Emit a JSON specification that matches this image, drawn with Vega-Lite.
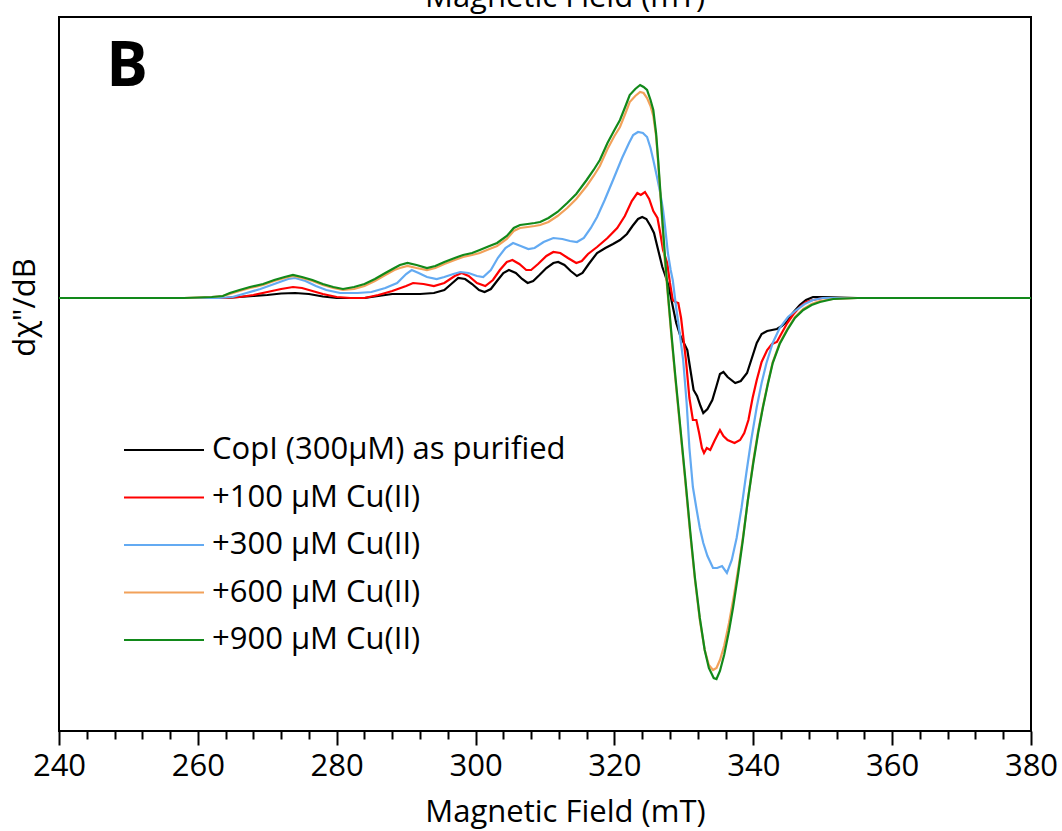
{
"$schema": "https://vega.github.io/schema/vega-lite/v6.json",
"width": 972, "height": 714,
"autosize": {"type": "none"},
"padding": {"left": 59, "top": 17, "right": 31, "bottom": 100},
"background": "white",
"config": {"view": {"stroke": "black", "strokeWidth": 2}, "font": "Open Sans"},
"resolve": {"axis": {"x": "independent"}},
"layer": [
{
"data": {"values": [
{"s":"a","x":240,"y":0},{"s":"a","x":255,"y":0},{"s":"a","x":264,"y":0},{"s":"a","x":266,"y":1},{"s":"a","x":268,"y":2},{"s":"a","x":270,"y":3},{"s":"a","x":272,"y":4.5},{"s":"a","x":274,"y":5},{"s":"a","x":276,"y":4},{"s":"a","x":278,"y":1.5},{"s":"a","x":280,"y":0},{"s":"a","x":284,"y":0},{"s":"a","x":286,"y":2},{"s":"a","x":288,"y":4},{"s":"a","x":290,"y":4},{"s":"a","x":292,"y":4},{"s":"a","x":294,"y":5},{"s":"a","x":295.5,"y":8},{"s":"a","x":296.5,"y":14},{"s":"a","x":297.5,"y":20},{"s":"a","x":298.5,"y":19},{"s":"a","x":299.5,"y":14},{"s":"a","x":300.5,"y":8},{"s":"a","x":301.3,"y":6},{"s":"a","x":302.2,"y":9},{"s":"a","x":303.2,"y":18},{"s":"a","x":304,"y":25},{"s":"a","x":304.8,"y":28},{"s":"a","x":305.8,"y":25},{"s":"a","x":306.7,"y":19},{"s":"a","x":307.5,"y":15},{"s":"a","x":308.3,"y":17},{"s":"a","x":309.2,"y":23},{"s":"a","x":310.2,"y":30},{"s":"a","x":311.2,"y":35},{"s":"a","x":311.9,"y":36},{"s":"a","x":312.8,"y":33},{"s":"a","x":313.7,"y":27},{"s":"a","x":314.6,"y":22},{"s":"a","x":315.4,"y":25},{"s":"a","x":316.3,"y":34},{"s":"a","x":317.5,"y":45},{"s":"a","x":318.7,"y":50},{"s":"a","x":319.8,"y":54},{"s":"a","x":320.8,"y":58},{"s":"a","x":321.8,"y":64},{"s":"a","x":322.6,"y":72},{"s":"a","x":323.4,"y":79},{"s":"a","x":324,"y":81},{"s":"a","x":324.6,"y":79},{"s":"a","x":325.2,"y":72},{"s":"a","x":325.7,"y":65},{"s":"a","x":326.3,"y":48},{"s":"a","x":326.9,"y":31},{"s":"a","x":327.3,"y":23},{"s":"a","x":327.8,"y":12},{"s":"a","x":328.3,"y":-5},{"s":"a","x":328.9,"y":-25},{"s":"a","x":329.5,"y":-38},{"s":"a","x":330,"y":-45},{"s":"a","x":330.5,"y":-52},{"s":"a","x":330.9,"y":-70},{"s":"a","x":331.4,"y":-92},{"s":"a","x":331.9,"y":-98},{"s":"a","x":332.4,"y":-108},{"s":"a","x":332.8,"y":-115},{"s":"a","x":333.4,"y":-111},{"s":"a","x":334.1,"y":-102},{"s":"a","x":334.7,"y":-88},{"s":"a","x":335.2,"y":-76},{"s":"a","x":335.7,"y":-74},{"s":"a","x":336.3,"y":-79},{"s":"a","x":337.4,"y":-85},{"s":"a","x":338.2,"y":-83},{"s":"a","x":339.1,"y":-75},{"s":"a","x":339.8,"y":-60},{"s":"a","x":340.5,"y":-45},{"s":"a","x":341.2,"y":-36},{"s":"a","x":342,"y":-33},{"s":"a","x":342.7,"y":-32},{"s":"a","x":343.4,"y":-31},{"s":"a","x":344.1,"y":-28},{"s":"a","x":344.9,"y":-23},{"s":"a","x":345.7,"y":-15},{"s":"a","x":346.7,"y":-7},{"s":"a","x":347.6,"y":-2},{"s":"a","x":348.6,"y":1},{"s":"a","x":350,"y":1},{"s":"a","x":355,"y":0},{"s":"a","x":365,"y":0},{"s":"a","x":380,"y":0},

{"s":"b","x":240,"y":0},{"s":"b","x":255,"y":0},{"s":"b","x":264,"y":0},{"s":"b","x":266,"y":1},{"s":"b","x":268,"y":3},{"s":"b","x":270,"y":6},{"s":"b","x":272,"y":9},{"s":"b","x":273.7,"y":11},{"s":"b","x":275,"y":10},{"s":"b","x":276.5,"y":7},{"s":"b","x":278,"y":4},{"s":"b","x":280,"y":1},{"s":"b","x":282,"y":0},{"s":"b","x":284,"y":0},{"s":"b","x":286,"y":3},{"s":"b","x":288,"y":7},{"s":"b","x":290,"y":12},{"s":"b","x":291,"y":15},{"s":"b","x":292.5,"y":14},{"s":"b","x":294,"y":12},{"s":"b","x":295.5,"y":15},{"s":"b","x":297,"y":22},{"s":"b","x":298,"y":25},{"s":"b","x":299,"y":22},{"s":"b","x":300.2,"y":15},{"s":"b","x":301.4,"y":12},{"s":"b","x":302.5,"y":18},{"s":"b","x":303.5,"y":28},{"s":"b","x":304.5,"y":36},{"s":"b","x":305.3,"y":38},{"s":"b","x":306.3,"y":34},{"s":"b","x":307.3,"y":28},{"s":"b","x":308,"y":28},{"s":"b","x":309,"y":34},{"s":"b","x":310.2,"y":42},{"s":"b","x":311.2,"y":46},{"s":"b","x":312.2,"y":45},{"s":"b","x":313.3,"y":40},{"s":"b","x":314.5,"y":35},{"s":"b","x":315.3,"y":37},{"s":"b","x":316.2,"y":44},{"s":"b","x":317.5,"y":51},{"s":"b","x":319,"y":60},{"s":"b","x":320.4,"y":70},{"s":"b","x":321.5,"y":82},{"s":"b","x":322.5,"y":97},{"s":"b","x":323.3,"y":105},{"s":"b","x":323.8,"y":103},{"s":"b","x":324.4,"y":106},{"s":"b","x":325,"y":99},{"s":"b","x":325.6,"y":87},{"s":"b","x":326.2,"y":80},{"s":"b","x":326.6,"y":65},{"s":"b","x":327,"y":48},{"s":"b","x":327.6,"y":35},{"s":"b","x":328,"y":15},{"s":"b","x":328.4,"y":-2},{"s":"b","x":328.8,"y":-4},{"s":"b","x":329.2,"y":-5},{"s":"b","x":329.6,"y":-20},{"s":"b","x":329.9,"y":-38},{"s":"b","x":330.3,"y":-62},{"s":"b","x":330.8,"y":-100},{"s":"b","x":331.3,"y":-122},{"s":"b","x":331.8,"y":-122},{"s":"b","x":332.2,"y":-135},{"s":"b","x":332.6,"y":-150},{"s":"b","x":332.9,"y":-155},{"s":"b","x":333.3,"y":-150},{"s":"b","x":333.8,"y":-152},{"s":"b","x":334.4,"y":-143},{"s":"b","x":335.2,"y":-132},{"s":"b","x":335.7,"y":-138},{"s":"b","x":336.3,"y":-142},{"s":"b","x":337.3,"y":-145},{"s":"b","x":338.1,"y":-142},{"s":"b","x":338.7,"y":-135},{"s":"b","x":339.3,"y":-122},{"s":"b","x":339.9,"y":-100},{"s":"b","x":340.5,"y":-82},{"s":"b","x":341.2,"y":-64},{"s":"b","x":342,"y":-52},{"s":"b","x":342.7,"y":-46},{"s":"b","x":343.4,"y":-44},{"s":"b","x":344.1,"y":-35},{"s":"b","x":344.9,"y":-25},{"s":"b","x":345.8,"y":-16},{"s":"b","x":346.7,"y":-9},{"s":"b","x":347.6,"y":-4},{"s":"b","x":348.6,"y":-2},{"s":"b","x":350,"y":0},{"s":"b","x":355,"y":0},{"s":"b","x":365,"y":0},{"s":"b","x":380,"y":0},

{"s":"c","x":240,"y":0},{"s":"c","x":255,"y":0},{"s":"c","x":263,"y":0},{"s":"c","x":265,"y":1},{"s":"c","x":267,"y":5},{"s":"c","x":269,"y":9},{"s":"c","x":271,"y":14},{"s":"c","x":273,"y":19},{"s":"c","x":274,"y":20},{"s":"c","x":275.5,"y":17},{"s":"c","x":277,"y":12},{"s":"c","x":278.5,"y":8},{"s":"c","x":280.5,"y":5},{"s":"c","x":283,"y":5},{"s":"c","x":285,"y":6},{"s":"c","x":287,"y":10},{"s":"c","x":288.7,"y":15},{"s":"c","x":290,"y":24},{"s":"c","x":290.8,"y":28},{"s":"c","x":291.8,"y":25},{"s":"c","x":293,"y":21},{"s":"c","x":294.4,"y":19},{"s":"c","x":295.5,"y":21},{"s":"c","x":296.8,"y":24},{"s":"c","x":297.8,"y":26},{"s":"c","x":299,"y":25},{"s":"c","x":300.2,"y":22},{"s":"c","x":301.1,"y":21},{"s":"c","x":302.2,"y":28},{"s":"c","x":303.2,"y":40},{"s":"c","x":304.3,"y":50},{"s":"c","x":305.4,"y":55},{"s":"c","x":306.5,"y":52},{"s":"c","x":307.6,"y":49},{"s":"c","x":308.5,"y":50},{"s":"c","x":309.8,"y":56},{"s":"c","x":311.2,"y":60},{"s":"c","x":312.5,"y":59},{"s":"c","x":313.6,"y":57},{"s":"c","x":314.6,"y":56},{"s":"c","x":315.6,"y":60},{"s":"c","x":316.6,"y":70},{"s":"c","x":317.5,"y":81},{"s":"c","x":318.6,"y":98},{"s":"c","x":319.8,"y":118},{"s":"c","x":321.1,"y":140},{"s":"c","x":322.1,"y":155},{"s":"c","x":322.7,"y":163},{"s":"c","x":323.4,"y":166},{"s":"c","x":324.1,"y":165},{"s":"c","x":324.7,"y":161},{"s":"c","x":325.2,"y":150},{"s":"c","x":325.6,"y":138},{"s":"c","x":326.1,"y":122},{"s":"c","x":326.6,"y":105},{"s":"c","x":327,"y":88},{"s":"c","x":327.3,"y":71},{"s":"c","x":327.7,"y":45},{"s":"c","x":328.1,"y":28},{"s":"c","x":328.4,"y":18},{"s":"c","x":328.9,"y":-10},{"s":"c","x":329.4,"y":-35},{"s":"c","x":329.9,"y":-62},{"s":"c","x":330.4,"y":-105},{"s":"c","x":330.8,"y":-150},{"s":"c","x":331.3,"y":-189},{"s":"c","x":331.8,"y":-210},{"s":"c","x":332.3,"y":-230},{"s":"c","x":332.8,"y":-245},{"s":"c","x":333.4,"y":-258},{"s":"c","x":334.2,"y":-270},{"s":"c","x":334.8,"y":-270},{"s":"c","x":335.5,"y":-268},{"s":"c","x":336.2,"y":-275},{"s":"c","x":336.9,"y":-262},{"s":"c","x":337.6,"y":-240},{"s":"c","x":338.3,"y":-210},{"s":"c","x":339,"y":-175},{"s":"c","x":339.7,"y":-142},{"s":"c","x":340.5,"y":-109},{"s":"c","x":341.2,"y":-85},{"s":"c","x":341.9,"y":-65},{"s":"c","x":342.8,"y":-45},{"s":"c","x":343.8,"y":-30},{"s":"c","x":345,"y":-19},{"s":"c","x":346.2,"y":-12},{"s":"c","x":347.4,"y":-6},{"s":"c","x":348.6,"y":-2},{"s":"c","x":350,"y":0},{"s":"c","x":355,"y":0},{"s":"c","x":365,"y":0},{"s":"c","x":380,"y":0},

{"s":"d","x":240,"y":0},{"s":"d","x":250,"y":0},{"s":"d","x":258,"y":0},{"s":"d","x":262,"y":1},{"s":"d","x":263.6,"y":2},{"s":"d","x":264.6,"y":4},{"s":"d","x":266,"y":7},{"s":"d","x":267.5,"y":10},{"s":"d","x":269.4,"y":13},{"s":"d","x":271,"y":17},{"s":"d","x":272.5,"y":20},{"s":"d","x":273.7,"y":22},{"s":"d","x":275,"y":20},{"s":"d","x":276.5,"y":17},{"s":"d","x":278,"y":13},{"s":"d","x":279.5,"y":10},{"s":"d","x":280.9,"y":8},{"s":"d","x":282.5,"y":9},{"s":"d","x":284,"y":12},{"s":"d","x":285.5,"y":17},{"s":"d","x":287,"y":23},{"s":"d","x":288.3,"y":28},{"s":"d","x":289.1,"y":30},{"s":"d","x":290.2,"y":32},{"s":"d","x":291.5,"y":30},{"s":"d","x":293,"y":28},{"s":"d","x":294.2,"y":30},{"s":"d","x":295.5,"y":34},{"s":"d","x":297,"y":38},{"s":"d","x":298.2,"y":41},{"s":"d","x":299.5,"y":43},{"s":"d","x":300.6,"y":45},{"s":"d","x":302,"y":49},{"s":"d","x":303.1,"y":52},{"s":"d","x":304.5,"y":59},{"s":"d","x":305.5,"y":67},{"s":"d","x":306.4,"y":70},{"s":"d","x":307.5,"y":71},{"s":"d","x":308.5,"y":72},{"s":"d","x":309.3,"y":73},{"s":"d","x":310.5,"y":76},{"s":"d","x":311.8,"y":82},{"s":"d","x":313.2,"y":90},{"s":"d","x":314.5,"y":99},{"s":"d","x":316,"y":112},{"s":"d","x":317,"y":122},{"s":"d","x":317.9,"y":132},{"s":"d","x":319,"y":149},{"s":"d","x":320,"y":162},{"s":"d","x":320.8,"y":171},{"s":"d","x":321.6,"y":185},{"s":"d","x":322.2,"y":196},{"s":"d","x":323,"y":202},{"s":"d","x":323.7,"y":206},{"s":"d","x":324.2,"y":205},{"s":"d","x":324.7,"y":200},{"s":"d","x":325.2,"y":192},{"s":"d","x":325.6,"y":182},{"s":"d","x":326,"y":162},{"s":"d","x":326.3,"y":135},{"s":"d","x":326.8,"y":85},{"s":"d","x":327.2,"y":42},{"s":"d","x":327.7,"y":2},{"s":"d","x":328.2,"y":-38},{"s":"d","x":328.8,"y":-83},{"s":"d","x":329.5,"y":-133},{"s":"d","x":330.2,"y":-183},{"s":"d","x":330.9,"y":-235},{"s":"d","x":331.6,"y":-282},{"s":"d","x":332.3,"y":-322},{"s":"d","x":333,"y":-352},{"s":"d","x":333.6,"y":-367},{"s":"d","x":334.2,"y":-372},{"s":"d","x":334.7,"y":-370},{"s":"d","x":335.2,"y":-362},{"s":"d","x":335.8,"y":-348},{"s":"d","x":336.5,"y":-325},{"s":"d","x":337.2,"y":-298},{"s":"d","x":337.9,"y":-268},{"s":"d","x":338.6,"y":-235},{"s":"d","x":339.3,"y":-198},{"s":"d","x":340,"y":-163},{"s":"d","x":340.7,"y":-133},{"s":"d","x":341.4,"y":-108},{"s":"d","x":342.1,"y":-85},{"s":"d","x":342.8,"y":-64},{"s":"d","x":343.8,"y":-45},{"s":"d","x":344.9,"y":-31},{"s":"d","x":346,"y":-19},{"s":"d","x":347.2,"y":-11},{"s":"d","x":348.4,"y":-6},{"s":"d","x":349.6,"y":-3},{"s":"d","x":351.5,"y":-1},{"s":"d","x":355,"y":0},{"s":"d","x":365,"y":0},{"s":"d","x":380,"y":0},

{"s":"e","x":240,"y":0},{"s":"e","x":250,"y":0},{"s":"e","x":258,"y":0},{"s":"e","x":262,"y":1},{"s":"e","x":263.6,"y":2},{"s":"e","x":264.6,"y":5},{"s":"e","x":266,"y":8},{"s":"e","x":267.5,"y":11},{"s":"e","x":269.4,"y":14},{"s":"e","x":271,"y":18},{"s":"e","x":272.5,"y":21},{"s":"e","x":273.7,"y":23},{"s":"e","x":275,"y":21},{"s":"e","x":276.5,"y":18},{"s":"e","x":278,"y":14},{"s":"e","x":279.5,"y":11},{"s":"e","x":280.9,"y":9},{"s":"e","x":282.5,"y":11},{"s":"e","x":284,"y":14},{"s":"e","x":285.5,"y":19},{"s":"e","x":287,"y":25},{"s":"e","x":288.3,"y":30},{"s":"e","x":289.1,"y":33},{"s":"e","x":290.2,"y":35},{"s":"e","x":291.5,"y":33},{"s":"e","x":293,"y":30},{"s":"e","x":294.2,"y":32},{"s":"e","x":295.5,"y":36},{"s":"e","x":297,"y":40},{"s":"e","x":298.2,"y":43},{"s":"e","x":299.5,"y":45},{"s":"e","x":300.6,"y":48},{"s":"e","x":302,"y":52},{"s":"e","x":303.1,"y":55},{"s":"e","x":304.5,"y":62},{"s":"e","x":305.5,"y":70},{"s":"e","x":306.4,"y":73},{"s":"e","x":307.5,"y":74},{"s":"e","x":308.5,"y":75},{"s":"e","x":309.3,"y":76},{"s":"e","x":310.5,"y":80},{"s":"e","x":311.8,"y":86},{"s":"e","x":313.2,"y":95},{"s":"e","x":314.5,"y":104},{"s":"e","x":316,"y":118},{"s":"e","x":317,"y":128},{"s":"e","x":317.9,"y":138},{"s":"e","x":319,"y":155},{"s":"e","x":320,"y":168},{"s":"e","x":320.8,"y":178},{"s":"e","x":321.6,"y":192},{"s":"e","x":322.2,"y":203},{"s":"e","x":323,"y":209},{"s":"e","x":323.7,"y":213},{"s":"e","x":324.2,"y":211},{"s":"e","x":324.7,"y":208},{"s":"e","x":325.2,"y":198},{"s":"e","x":325.6,"y":188},{"s":"e","x":326,"y":165},{"s":"e","x":326.3,"y":138},{"s":"e","x":326.8,"y":88},{"s":"e","x":327.3,"y":40},{"s":"e","x":327.7,"y":5},{"s":"e","x":328.2,"y":-35},{"s":"e","x":328.8,"y":-80},{"s":"e","x":329.5,"y":-130},{"s":"e","x":330.2,"y":-180},{"s":"e","x":330.9,"y":-232},{"s":"e","x":331.6,"y":-280},{"s":"e","x":332.3,"y":-320},{"s":"e","x":333,"y":-352},{"s":"e","x":333.6,"y":-370},{"s":"e","x":334.3,"y":-380},{"s":"e","x":334.7,"y":-381},{"s":"e","x":335.2,"y":-373},{"s":"e","x":335.8,"y":-357},{"s":"e","x":336.5,"y":-333},{"s":"e","x":337.1,"y":-309},{"s":"e","x":337.8,"y":-277},{"s":"e","x":338.5,"y":-242},{"s":"e","x":339.2,"y":-203},{"s":"e","x":340,"y":-165},{"s":"e","x":340.7,"y":-135},{"s":"e","x":341.4,"y":-109},{"s":"e","x":342.1,"y":-86},{"s":"e","x":342.8,"y":-65},{"s":"e","x":343.8,"y":-46},{"s":"e","x":344.9,"y":-32},{"s":"e","x":346,"y":-20},{"s":"e","x":347.2,"y":-12},{"s":"e","x":348.4,"y":-7},{"s":"e","x":349.6,"y":-4},{"s":"e","x":351.5,"y":-1},{"s":"e","x":355,"y":0},{"s":"e","x":365,"y":0},{"s":"e","x":380,"y":0}
]},
"mark": {"type": "line", "strokeWidth": 2.2},
"encoding": {
"x": {"field": "x", "type": "quantitative", "scale": {"domain": [240, 380], "nice": false, "zero": false},
"axis": {"orient": "bottom", "values": [240, 260, 280, 300, 320, 340, 360, 380], "tickSize": 14, "tickWidth": 2, "tickColor": "black", "domain": false, "grid": false, "labelFontSize": 31, "labelFont": "Open Sans", "labelColor": "black", "labelPadding": 6, "labelFlush": false, "labelOverlap": false, "title": "Magnetic Field (mT)", "titleFontSize": 31, "titleFont": "Open Sans", "titleFontWeight": "normal", "titleColor": "black", "titleX": 506, "titleY": 90, "titleAlign": "center", "titleBaseline": "alphabetic"}},
"y": {"field": "y", "type": "quantitative", "scale": {"domain": [-433, 281], "nice": false, "zero": false},
"axis": {"ticks": false, "labels": false, "domain": false, "grid": false, "title": "dχ\"/dB", "titleFontSize": 31, "titleFont": "Open Sans", "titleFontWeight": "normal", "titleColor": "black", "titleX": -34, "titleY": 290, "titleAngle": -90, "titleAlign": "center", "titleBaseline": "middle"}},
"color": {"field": "s", "type": "nominal",
"scale": {"domain": ["a", "b", "c", "d", "e"], "range": ["#000000", "#FF0000", "#63AAF2", "#F2A15A", "#12891A"]},
"legend": {"orient": "none", "legendX": 64, "legendY": 413, "title": null, "symbolType": "stroke", "symbolSize": 6400, "symbolStrokeWidth": 2, "clipHeight": 40, "rowPadding": 7.5, "labelFontSize": 31, "labelFont": "Open Sans", "labelColor": "black", "labelOffset": 7, "labelLimit": 600, "padding": 0,
"labelExpr": "{'a': 'CopI (300µM) as purified', 'b': '+100 µM Cu(II)', 'c': '+300 µM Cu(II)', 'd': '+600 µM Cu(II)', 'e': '+900 µM Cu(II)'}[datum.label]"}}
}
},
{
"data": {"values": [{"t": "B"}]},
"mark": {"type": "text", "fontSize": 62, "fontWeight": "bold", "font": "Open Sans", "color": "black", "align": "center", "baseline": "middle"},
"encoding": {
"text": {"field": "t"},
"x": {"datum": 249.8, "type": "quantitative", "axis": {"orient": "bottom", "values": [244, 248, 252, 256, 264, 268, 272, 276, 284, 288, 292, 296, 304, 308, 312, 316, 324, 328, 332, 336, 344, 348, 352, 356, 364, 368, 372, 376], "tickSize": 8, "tickWidth": 2, "tickColor": "black", "labels": false, "domain": false, "grid": false, "title": null}},
"y": {"datum": 231, "type": "quantitative"}
}
},
{
"data": {"values": [{"t": "Magnetic Field (mT)"}]},
"mark": {"type": "text", "fontSize": 31, "font": "Open Sans", "color": "black", "align": "center", "baseline": "alphabetic"},
"encoding": {
"text": {"field": "t"},
"x": {"datum": 312.9, "type": "quantitative", "axis": null},
"y": {"datum": 291, "type": "quantitative"}
}
}
]
}
